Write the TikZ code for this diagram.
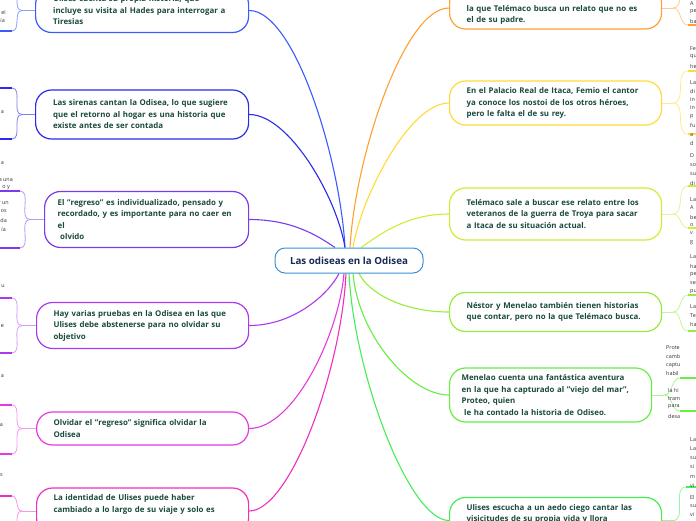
\documentclass[tikz,border=0pt]{standalone}
\usepackage{fontspec}
\setmainfont{Open Sans}
\usetikzlibrary{backgrounds}
\definecolor{txt}{HTML}{1A4A3C}
\definecolor{ctxt}{HTML}{1A2A55}
\definecolor{cC}{HTML}{3A8FD6}
\definecolor{frg}{HTML}{333333}
\definecolor{cLa}{HTML}{3D5AFE}\definecolor{lLa}{HTML}{8C9EFF}
\definecolor{cLb}{HTML}{2B2BEA}\definecolor{lLb}{HTML}{8080F0}
\definecolor{cLc}{HTML}{7C3AED}\definecolor{lLc}{HTML}{B89AF5}
\definecolor{cLd}{HTML}{A93AEE}\definecolor{lLd}{HTML}{D49AF5}
\definecolor{cLe}{HTML}{E53AE0}\definecolor{lLe}{HTML}{F29AEE}
\definecolor{cLf}{HTML}{EE30C0}\definecolor{lLf}{HTML}{F598DF}
\definecolor{cRa}{HTML}{FFA033}\definecolor{lRa}{HTML}{FFCB8A}
\definecolor{cRb}{HTML}{FFDB3A}\definecolor{lRb}{HTML}{FFEB8F}
\definecolor{cRc}{HTML}{CDEE33}\definecolor{lRc}{HTML}{E4F590}
\definecolor{cRd}{HTML}{96EE3A}\definecolor{lRd}{HTML}{C4F595}
\definecolor{cRe}{HTML}{66EE44}\definecolor{lRe}{HTML}{A8F598}
\definecolor{cRf}{HTML}{44EE55}\definecolor{lRf}{HTML}{98F5A2}
\tikzset{
  box/.style={draw, line width=1.2pt, rounded corners=16pt, fill=white, align=left,
    text width=178pt, inner xsep=17.5pt, inner ysep=0pt, anchor=west, text=txt,
    font=\bfseries\fontsize{7.9}{11.5}\selectfont},
  conn/.style={line width=1.1pt},
  sub/.style={line width=0.8pt},
  ul/.style={line width=1.8pt},
  frag/.style={inner sep=0pt, text=frg, font=\fontsize{5.4}{6}\selectfont}
}
\begin{document}
\begin{tikzpicture}[x=1pt,y=-1pt]
\useasboundingbox (0,0) rectangle (696,520);
\clip (0,0) rectangle (696,520);

% central node
\node[draw=cC, line width=1pt, rounded corners=10pt, fill=white, minimum width=148pt,
  minimum height=25pt, text=ctxt, font=\bfseries\fontsize{9.8}{11}\selectfont] (c) at (349,260.5) {Las odiseas en la Odisea};

% left nodes
\node[box, draw=cLa, minimum height=44pt] (L1) at (35,10.5) {Ulises cuenta su propia historia, que\\incluye su visita al Hades para interrogar a\\Tiresias};
\node[box, draw=cLb, minimum height=49pt] (L2) at (35,114.5) {Las sirenas cantan la Odisea, lo que sugiere\\que el retorno al hogar es una historia que\\existe antes de ser contada};
\node[box, draw=cLc, minimum height=56pt, inner xsep=13pt] (L3) at (44,219.5) {El "regreso" es individualizado, pensado y\\recordado, y es importante para no caer en\\el\\\ olvido};
\node[box, draw=cLd, minimum height=46pt, inner xsep=17pt] (L4) at (36,325.5) {Hay varias pruebas en la Odisea en las que\\Ulises debe abstenerse para no olvidar su\\objetivo};
\node[box, draw=cLe, minimum height=33pt, inner xsep=17pt] (L5) at (36,428.5) {Olvidar el "regreso" significa olvidar la\\Odisea};
\node[box, draw=cLf, minimum height=46pt, inner xsep=17pt] (L6) at (36,511) {La identidad de Ulises puede haber\\cambiado a lo largo de su viaje y solo es\\\strut};

% right nodes
\node[box, draw=cRa, minimum height=42pt, inner xsep=17pt] (R1) at (449,8) {\strut\\la que Telémaco busca un relato que no es\\el de su padre.};
\node[box, draw=cRb, minimum height=44pt, inner xsep=17pt] (R2) at (449,103) {En el Palacio Real de Itaca, Femio el cantor\\ya conoce los nostoi de los otros héroes,\\pero le falta el de su rey.};
\node[box, draw=cRc, minimum height=52pt, inner xsep=17pt] (R3) at (449,214) {Telémaco sale a buscar ese relato entre los\\veteranos de la guerra de Troya para sacar\\a Itaca de su situación actual.};
\node[box, draw=cRd, minimum height=39pt, inner xsep=17pt] (R4) at (449,312) {Néstor y Menelao también tienen historias\\que contar, pero no la que Telémaco busca.};
\node[box, draw=cRe, minimum height=54pt, inner xsep=12pt] (R5) at (449,395) {Menelao cuenta una fantástica aventura\\en la que ha capturado al "viejo del mar",\\Proteo, quien\\\ le ha contado la historia de Odiseo.};
\node[box, draw=cRf, minimum height=46pt, inner xsep=17pt] (R6) at (449,520.5) {Ulises escucha a un aedo ciego cantar las\\visicitudes de su propia vida y llora\\\strut};

% bracket end points
\coordinate (L1a) at (12,-14); \coordinate (L1b) at (12,31);
\coordinate (L2a) at (12,88);  \coordinate (L2b) at (12,139);
\coordinate (L3a) at (20,191); \coordinate (L3b) at (20,248);
\coordinate (L4a) at (12,298); \coordinate (L4b) at (12,353);
\coordinate (L5a) at (12,405); \coordinate (L5b) at (12,454);
\coordinate (L6a) at (12,496); \coordinate (L6b) at (12,535);
\coordinate (R1a) at (688,-12); \coordinate (R1b) at (688,25);
\coordinate (R2a) at (688,71);  \coordinate (R2b) at (688,134);
\coordinate (R3a) at (688,186); \coordinate (R3b) at (688,228);
\coordinate (R4a) at (688,295); \coordinate (R4b) at (688,331);
\coordinate (R5a) at (680,378); \coordinate (R5b) at (680,411);
\coordinate (R6a) at (686,487); \coordinate (R6b) at (686,545);

\begin{scope}[on background layer]
\fill[white] (0,0) rectangle (696,520);
% main connectors
\draw[conn, cLa] (L1.east) .. controls +(45,0) and +(-5,-90) .. ([xshift=-4pt]c.north);
\draw[conn, cLb] (L2.east) .. controls +(40,0) and +(-8,-50) .. ([xshift=-4pt]c.north);
\draw[conn, cLc] (L3.east) .. controls +(45,0) and +(-15,-10) .. ([xshift=-14pt]c.north);
\draw[conn, cLd] (L4.east) .. controls +(45,0) and +(-10,20) .. ([xshift=-10pt]c.south);
\draw[conn, cLe] (L5.east) .. controls +(45,0) and +(-5,60) .. ([xshift=-5pt]c.south);
\draw[conn, cLf] (L6.east) .. controls +(40,0) and +(-5,100) .. ([xshift=-3pt]c.south);
\draw[conn, cRa] (R1.west) .. controls +(-45,0) and +(5,-90) .. ([xshift=1pt]c.north);
\draw[conn, cRb] (R2.west) .. controls +(-40,0) and +(8,-50) .. ([xshift=4pt]c.north);
\draw[conn, cRc] (R3.west) .. controls +(-45,0) and +(15,-10) .. ([xshift=12pt]c.north);
\draw[conn, cRd] (R4.west) .. controls +(-45,0) and +(10,20) .. ([xshift=10pt]c.south);
\draw[conn, cRe] (R5.west) .. controls +(-40,0) and +(5,60) .. ([xshift=4pt]c.south);
\draw[conn, cRf] (R6.west) .. controls +(-40,0) and +(5,100) .. ([xshift=0pt]c.south);

% left brackets
\foreach \n/\m/\lc/\dc in {L1/22/lLa/cLa, L2/22/lLb/cLb, L3/30/lLc/cLc, L4/22/lLd/cLd, L5/22/lLe/cLe, L6/22/lLf/cLf}{
  \draw[sub, \lc] (\n.west) -- (\m,0 |- \n.west) coordinate (\n m);
  \draw[sub, \lc] (\n m) to[out=180,in=0] (\n a);
  \draw[sub, \lc] (\n m) to[out=180,in=0] (\n b);
  \draw[ul, \dc] (\n a) -- (-2,0 |- \n a);
  \draw[ul, \dc] (\n b) -- (-2,0 |- \n b);
}
% right brackets
\foreach \n/\m/\lc/\dc in {R1/673/lRa/cRa, R2/673/lRb/cRb, R3/673/lRc/cRc, R4/673/lRd/cRd, R5/664/lRe/cRe, R6/673/lRf/cRf}{
  \draw[sub, \lc] (\n.east) -- (\m,0 |- \n.east) coordinate (\n m);
  \draw[sub, \lc] (\n m) to[out=0,in=180] (\n a);
  \draw[sub, \lc] (\n m) to[out=0,in=180] (\n b);
  \draw[ul, \dc] (\n a) -- (700,0 |- \n a);
  \draw[ul, \dc] (\n b) -- (700,0 |- \n b);
}
\end{scope}

% fragments on the left edge
\node[frag, anchor=east] (fa1) at (6,12) {el};
\node[frag, anchor=east] (fa2) at (5,20) {ía};
\node[frag, anchor=east] (fa3) at (4,112) {a};
\node[frag, anchor=east] (fa4) at (4,163) {a};
\node[frag, anchor=east] (fa5) at (13,180) {a una};
\node[frag, anchor=east] (fa6) at (10,188) {o y};
\node[frag, anchor=east] (fa7) at (9,203) {r un};
\node[frag, anchor=east] (fa8) at (7,211) {os};
\node[frag, anchor=east] (fa9) at (7,220) {da};
\node[frag, anchor=east] (fa10) at (6,229) {ía};
\node[frag, anchor=east] (fa11) at (5,286) {u};
\node[frag, anchor=east] (fa12) at (4,326) {e};
\node[frag, anchor=east] (fa13) at (4,376) {a};
\node[frag, anchor=east] (fa14) at (3,425) {a};
\node[frag, anchor=east] (fa15) at (3,475) {s};

% fragments on the right edge
\foreach \t/\y [count=\i] in {A/4, pe/12, ba/21, Fe/49, qu/57, he/66, La/83, di/91, in/100, in/108, p/117, fu/125, a/135, d/143,
  D/156, so/165, su/174, di/183, La/200, A/208, be/217, o/225, v/233, g/243,
  La/257, ha/266, pe/275, se/283, pu/292, La/307, Te/316, ha/324,
  La/440, La/449, su/458, si/467, m/477, vi/486, El/497, su/506, vi/515}{
  \node[frag, anchor=west] (fr\i) at (690,\y) {\t};
}
\foreach \t/\y [count=\i] in {Prote/348, camb/356, captu/365, habil/373}{
  \node[frag, anchor=west] (fp\i) at (666,\y) {\t};
}
\foreach \t/\y [count=\i] in {la hi/390, tram/399, para/407, desa/416}{
  \node[frag, anchor=west] (fq\i) at (668,\y) {\t};
}
\end{tikzpicture}
\end{document}
